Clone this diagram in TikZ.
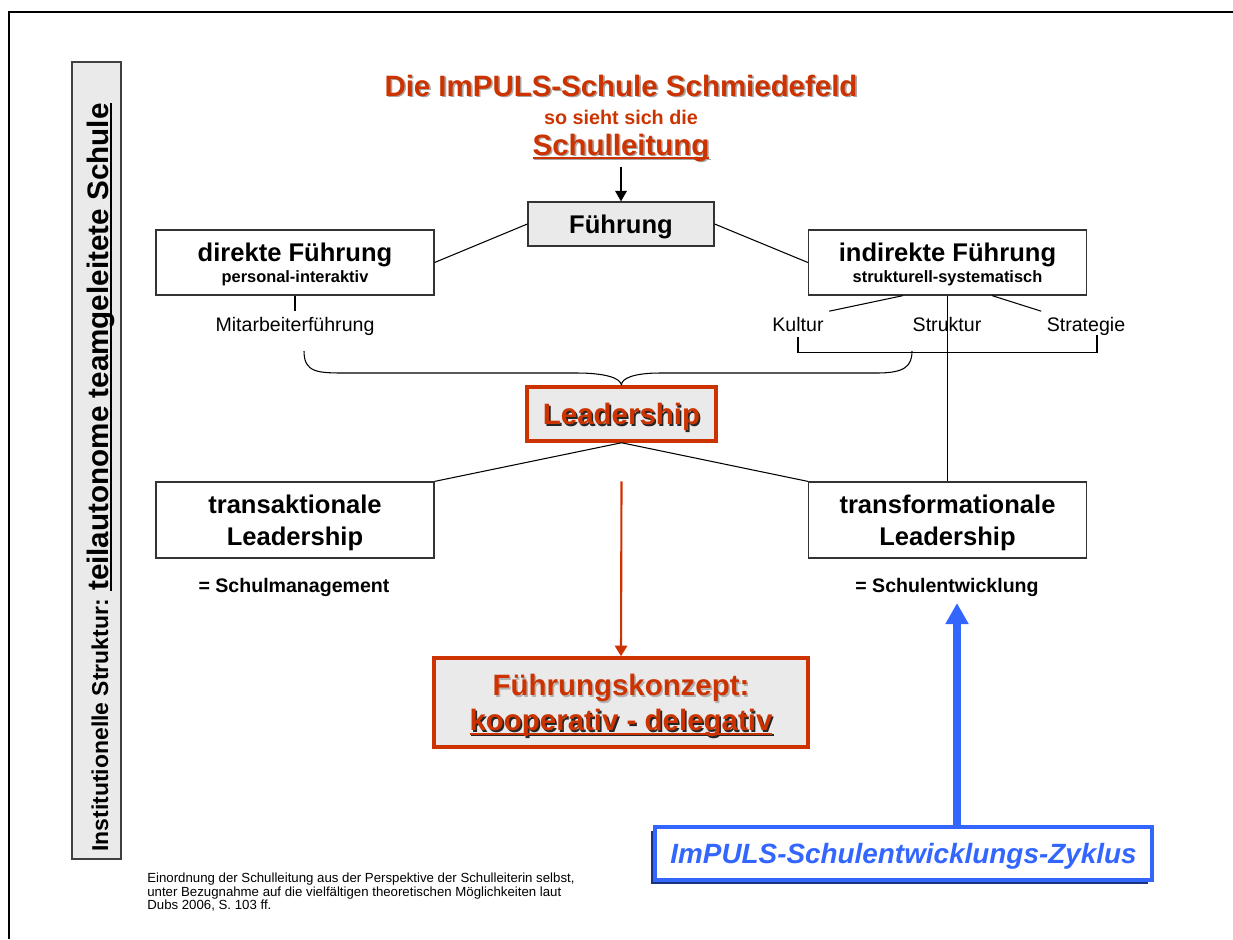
\documentclass[tikz,border=0pt]{standalone}
\usepackage{fontspec}
\setmainfont{Liberation Sans}
\usetikzlibrary{arrows.meta,shadows,calc}

\definecolor{impulsrot}{RGB}{204,51,0}
\definecolor{zyklusblau}{RGB}{51,102,255}
\definecolor{kastengrau}{RGB}{234,234,234}

\newcommand{\fsz}[2]{\fontsize{#1}{#2}\selectfont}
% Text mit versetztem Schatten
\newcommand{\schatten}[2]{\makebox[0pt][l]{\hspace{0.9pt}\raisebox{-0.9pt}{\color{#1}#2}}#2}
% kraeftiger Unterstrich
\newcommand{\ustrich}[1]{\setbox0=\hbox{#1}\rlap{\rule[-2.1pt]{\wd0}{1pt}}\box0}

\begin{document}
\begin{tikzpicture}[
    x=0.567pt, y=-0.567pt,
    linie/.style={line width=0.6pt},
    kasten/.style={draw=black!80, line width=0.7pt, align=center, inner sep=0pt,
      minimum width=157.6pt, text depth=0pt},
    rotkasten/.style={draw=impulsrot, line width=2pt, fill=kastengrau, align=center,
      inner sep=0pt, text=impulsrot, text depth=0pt},
    beschriftung/.style={font=\fsz{11.1}{13}, anchor=base, inner sep=3pt},
  ]
  \useasboundingbox (0,0) rectangle (1233,939);
  \draw[line width=1.1pt] (9,939) -- (9,12) -- (1233,12);

  % Seitenleiste links
  \node[draw=black!75, fill=kastengrau, line width=0.9pt, minimum width=27.8pt,
    minimum height=451.9pt, inner sep=0pt] (leiste) at (96.5,460.5) {};
  \node[rotate=90, anchor=base, inner sep=0pt] (institution) at (108,477.5)
    {\bfseries\fsz{13}{15}Institutionelle Struktur: \bfseries\fsz{16.8}{20}\ustrich{teilautonome teamgeleitete Schule}};

  % Titel
  \node[anchor=base, text=impulsrot, font=\bfseries\fsz{16.7}{20}] (titel) at (621,96)
    {\schatten{black!35}{Die ImPULS-Schule Schmiedefeld}};
  \node[anchor=base, text=impulsrot, font=\bfseries\fsz{11.2}{13}] (untertitel) at (621,124)
    {so sieht sich die};
  \node[anchor=base, text=impulsrot, font=\bfseries\fsz{16.7}{20}, inner sep=2pt] (schulleitung) at (621,155)
    {\schatten{black!35}{\ustrich{Schulleitung}}};

  % Fuehrung
  \node[kasten, fill=kastengrau, minimum width=105.5pt, minimum height=24.9pt,
    font=\bfseries\fsz{14.5}{17}] (fuehrung) at (621,224) {Führung};
  \node[kasten, minimum height=36.9pt, font=\bfseries\fsz{9.3}{12}] (direkt) at (295,262.5)
    {{\fsz{14.5}{17}direkte Führung}\\personal-interaktiv};
  \node[kasten, minimum height=36.9pt, font=\bfseries\fsz{9.3}{12}] (indirekt) at (947.5,262.5)
    {{\fsz{14.5}{17}indirekte Führung}\\strukturell-systematisch};
  \draw[-{Triangle[width=6.5pt,length=6pt]}, line width=1.1pt] (schulleitung.south) -- (fuehrung.north);
  \draw[linie] (fuehrung.west) -- (direkt.east);
  \draw[linie] (fuehrung.east) -- (indirekt.west);

  \node[beschriftung] (mitarbeiter) at (295,331) {Mitarbeiterführung};
  \node[beschriftung] (kultur) at (798,331) {Kultur};
  \node[beschriftung] (struktur) at (947,331) {Struktur};
  \node[beschriftung] (strategie) at (1086,331) {Strategie};
  \draw[linie] (direkt.south) -- (mitarbeiter.north);
  \draw[linie] ($(indirekt.south west)!0.34!(indirekt.south east)$) -- (kultur.north east);
  \draw[linie] ($(indirekt.south west)!0.66!(indirekt.south east)$) -- (strategie.north west);

  % Leadership
  \node[rotkasten, minimum width=107.2pt, minimum height=30.6pt, font=\bfseries\fsz{16.7}{20}]
    (leadership) at (621.5,414) {\schatten{black!85}{Leadership}};
  \node[kasten, minimum height=43.1pt, font=\bfseries\fsz{14.5}{18}] (transakt) at (295,520)
    {transaktionale\\Leadership};
  \node[kasten, minimum height=43.1pt, font=\bfseries\fsz{14.5}{18}] (transform) at (947.5,520)
    {transformationale\\Leadership};
  \draw[linie] (indirekt.south) -- (transform.north);
  \draw[linie] (leadership.south) -- (transakt.north east);
  \draw[linie] (leadership.south) -- (transform.north west);

  % Klammer und Bogen
  \coordinate (klammerrechts) at (1097,335);
  \coordinate (bogenlinks) at (304,351);
  \coordinate (bogenrechts) at (912,351);
  \draw[linie] (kultur.south) -- ++(0,16) -| (klammerrechts);
  \draw[linie] (bogenlinks) .. controls (304,373) and (318,373) .. (347,373) -- (577,373)
    .. controls (605,373) and (621,378) .. (leadership.north);
  \draw[linie] (leadership.north) .. controls (621,378) and (635,373) .. (660,373) -- (877,373)
    .. controls (905,373) and (912,366) .. (bogenrechts);

  \node[anchor=base, font=\bfseries\fsz{11.1}{13}] (management) at (294,592) {= Schulmanagement};
  \node[anchor=base, font=\bfseries\fsz{11.1}{13}] (entwicklung) at (947,592) {= Schulentwicklung};

  % Fuehrungskonzept
  \node[rotkasten, minimum width=212pt, minimum height=50.5pt, font=\bfseries\fsz{16.7}{20}]
    (konzept) at (621,702.5)
    {\schatten{black!30}{Führungskonzept:}\\ \schatten{black!85}{\ustrich{kooperativ - delegativ}}};
  \draw[impulsrot, line width=1.2pt, -{Triangle[width=7pt,length=6pt]}]
    (leadership.south |- transakt.north) -- (konzept.north);

  % Zyklus
  \node[draw=zyklusblau, line width=2.3pt, fill=white, minimum width=281.8pt, minimum height=30.1pt,
    inner sep=0pt, text=zyklusblau, font=\bfseries\itshape\fsz{15.8}{19}, text depth=0pt,
    drop shadow={shadow xshift=-2pt, shadow yshift=-2pt, fill=zyklusblau!50!black, opacity=1}]
    (zyklus) at (903.5,853.5) {ImPULS-Schulentwicklungs-Zyklus};
  \coordinate (zyklusziel) at (957,603);
  \draw[zyklusblau, line width=4pt, -{Triangle[width=12.5pt,length=12pt]}]
    (zyklus.north -| zyklusziel) -- (zyklusziel);

  \node[anchor=north west, align=left, inner sep=0pt, font=\fsz{7.5}{7.5}] (quelle) at (147,873)
    {Einordnung der Schulleitung aus der Perspektive der Schulleiterin selbst,\\
     unter Bezugnahme auf die vielfältigen theoretischen Möglichkeiten laut\\
     Dubs 2006, S. 103 ff.};
\end{tikzpicture}
\end{document}
